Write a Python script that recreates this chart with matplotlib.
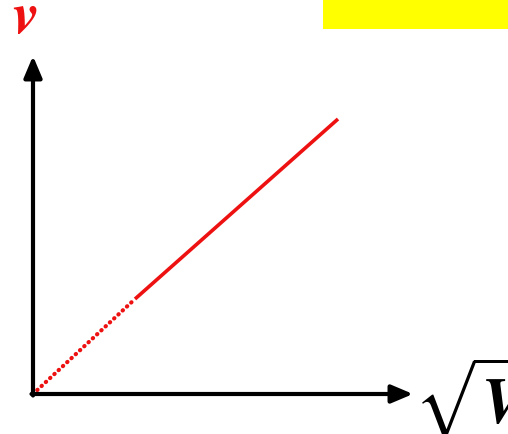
import matplotlib
matplotlib.use("Agg")
import matplotlib.pyplot as plt
from matplotlib.patches import Rectangle

# line through the origin: dotted near zero, solid afterwards
x_dotted = [0, 102]
y_dotted = [0, 95]
x_solid = [102, 305]
y_solid = [95, 275]

plt.rcParams['mathtext.fontset'] = 'stix'

fig = plt.figure(figsize=(5.08, 4.35), dpi=100)
ax = fig.add_axes([0, 0, 1, 1])
ax.set_xlim(-33, 475)
ax.set_ylim(-40, 395)
ax.axis('off')

# yellow box top right
ax.add_patch(Rectangle((290, 365), 200, 35, color='#ffff00', lw=0))

# axes arrows
ax.annotate('', xy=(380, 0), xytext=(-1.5, 0),
            arrowprops=dict(arrowstyle='-|>,head_length=1.3,head_width=0.55',
                            color='black', lw=3, shrinkA=0, shrinkB=0))
ax.annotate('', xy=(0, 338), xytext=(0, -1.5),
            arrowprops=dict(arrowstyle='-|>,head_length=1.3,head_width=0.55',
                            color='black', lw=3, shrinkA=0, shrinkB=0))

ax.plot(x_dotted, y_dotted, color='#ee1111', lw=3.0, ls=(0, (0.1, 1.3)),
        solid_capstyle='round', dash_capstyle='round')
ax.plot(x_solid, y_solid, color='#ee1111', lw=2.6, solid_capstyle='butt')

ax.text(-8, 362, r'$\boldsymbol{v}$', color='#ee1111', fontsize=42,
        ha='center', va='baseline')
ax.text(381, -4, r'$\sqrt{\boldsymbol{V}}$', color='black', fontsize=46,
        ha='left', va='center')

fig.savefig('out.png', dpi=100)
